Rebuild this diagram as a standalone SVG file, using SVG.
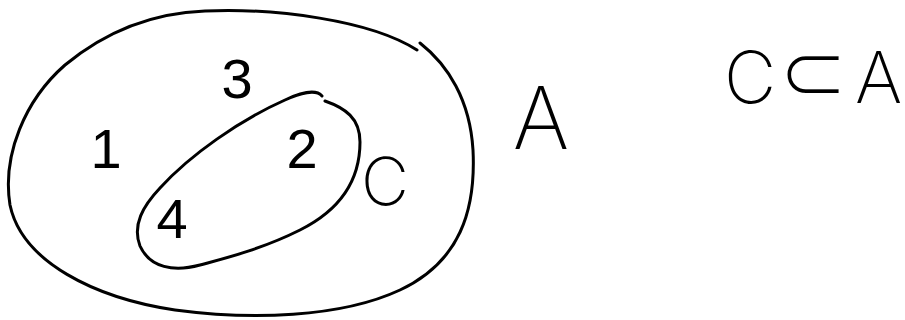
<svg xmlns="http://www.w3.org/2000/svg" width="905" height="320" viewBox="0 0 905 320">
<style>
.curve{fill:none;stroke:#000;stroke-width:3;stroke-linecap:round;stroke-linejoin:round}
.num{font-family:"Liberation Sans",Arial,sans-serif;font-size:56px;fill:#000}
.hand{font-family:Inter,"DejaVu Sans",sans-serif;font-weight:200;fill:#000}
.sym{font-family:"DejaVu Sans",sans-serif;font-weight:normal;stroke:#fff;stroke-width:2.5}
</style>
<rect width="905" height="320" fill="#fff"/>
<g id="setA">
<path class="curve" d="M420,43 C448,65 470,100 473,150 C476,210 460,262 400,290 C340,318 250,320 175,310 C95,298 22,262 10,205 C2,155 25,100 65,65 C105,32 150,13 205,11 C275,8 370,20 417,50"/>
<text class="hand" x="541" y="149" font-size="86" text-anchor="middle">A</text>
</g>
<g id="setC">
<path class="curve" d="M325,101 C345,108 360,118 360,142 C360,180 340,210 300,230 C260,250 222,259 200,265 C174,272 150,268 140,246 C132,225 143,206 160,188 C190,155 240,120 285,100 C300,93 316,89 322,96"/>
<text class="hand" x="385" y="205" font-size="66" text-anchor="middle">C</text>
</g>
<g id="elements">
<text class="num" x="106" y="168" text-anchor="middle">1</text>
<text class="num" x="302" y="168" text-anchor="middle">2</text>
<text class="num" x="237" y="98" text-anchor="middle">3</text>
<text class="num" x="172" y="238" text-anchor="middle">4</text>
</g>
<g id="relation">
<text class="hand" font-size="72" y="103"><tspan x="724">C</tspan><tspan class="sym" x="778" y="101" font-size="84">⊂</tspan><tspan x="855" y="103">A</tspan></text>
</g>
</svg>
